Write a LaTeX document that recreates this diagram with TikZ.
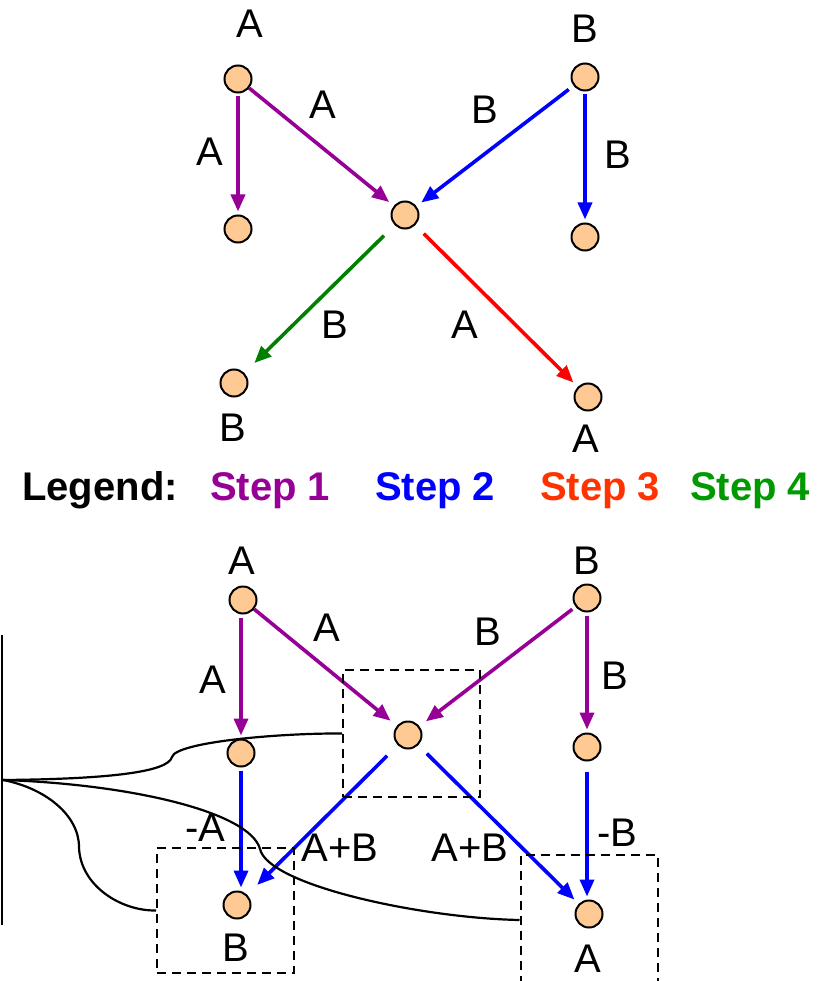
\documentclass[tikz,border=0pt]{standalone}
\usepackage{fontspec}
\setmainfont{Liberation Sans}
\usetikzlibrary{arrows.meta}
\definecolor{peach}{RGB}{255,201,148}
\definecolor{stepone}{RGB}{150,0,150}
\definecolor{steptwo}{RGB}{0,0,255}
\definecolor{stepthree}{RGB}{255,0,0}
\definecolor{stepfour}{RGB}{0,128,0}
\definecolor{legthree}{RGB}{255,51,0}
\definecolor{legfour}{RGB}{0,153,0}
\begin{document}
\begin{tikzpicture}[x=1pt,y=-1pt,
  vtx/.style={circle,draw=black,fill=peach,line width=2pt,minimum size=27pt,inner sep=0pt},
  lbl/.style={inner sep=0pt,font=\fontsize{40}{48}\selectfont},
  leg/.style={inner sep=0pt,anchor=base west,font=\fontsize{40}{48}\selectfont\bfseries},
  link/.style={line width=3.6pt,shorten <=3pt,shorten >=3pt,-{Triangle[length=17pt,width=14pt]}},
  dbox/.style={draw,line width=2pt,dash pattern=on 9pt off 6pt,inner sep=0pt,minimum width=137pt},
  brace/.style={line width=2.2pt}]
\useasboundingbox (0,0) rectangle (833,981);

% ---------- upper graph ----------
\node[vtx] (ta)  at (238,79)  {};
\node[vtx] (tab) at (238,229) {};
\node[vtx] (tc)  at (405,215) {};
\node[vtx] (tb)  at (585,77)  {};
\node[vtx] (tbb) at (585,237) {};
\node[vtx] (tl)  at (234,383) {};
\node[vtx] (tr)  at (588,397) {};

\node[lbl] (tal) at (250,24)  {A};
\node[lbl] (tbl) at (585,29)  {B};
\node[lbl] (tll) at (233,428) {B};
\node[lbl] (trl) at (586,439) {A};

\draw[link,stepone] (ta) -- (tab);
\node[lbl] (e1) at (210,152) {A};
\draw[link,stepone,shorten <=0pt,shorten >=6pt] (ta) -- (tc);
\node[lbl] (e2) at (323,105) {A};
\draw[link,steptwo,shorten <=6pt,shorten >=6pt] (tb) -- (tc);
\node[lbl] (e3) at (485,110) {B};
\draw[link,steptwo] (tb) -- (tbb);
\node[lbl] (e4) at (618,155) {B};
\draw[link,stepfour,shorten <=15pt,shorten >=14pt] (tc) -- (tl);
\node[lbl] (e5) at (335,325) {B};
\draw[link,stepthree,shorten <=12pt,shorten >=6pt] (tc) -- (tr);
\node[lbl] (e6) at (465,325) {A};

% ---------- legend ----------
\node[leg] (lg0) at (22,500)  {Legend:};
\node[leg,stepone] (lg1) at (210,500) {Step 1};
\node[leg,steptwo] (lg2) at (375,500) {Step 2};
\node[leg,legthree] (lg3) at (540,500) {Step 3};
\node[leg,legfour] (lg4) at (690,500) {Step 4};

% ---------- lower graph ----------
\node[vtx] (ba)  at (243,600) {};
\node[vtx] (bb)  at (587,598) {};
\node[vtx] (bc)  at (408,735) {};
\node[vtx] (bl)  at (241,753) {};
\node[vtx] (br)  at (587,747) {};
\node[vtx] (bx)  at (237,905) {};
\node[vtx] (by)  at (589,914) {};

\node[lbl] (bal) at (242,561) {A};
\node[lbl] (bbl) at (587,561) {B};
\node[lbl] (bxl) at (236,948) {B};
\node[lbl] (byl) at (588,959) {A};

\draw[link,stepone] (bl.north |- ba.south) -- (bl.north);
\node[lbl] (f1) at (213,680) {A};
\draw[link,stepone,shorten <=0pt,shorten >=8pt] (ba) -- (bc);
\node[lbl] (f2) at (327,628) {A};
\draw[link,stepone,shorten <=4pt,shorten >=8pt] (bb) -- (bc);
\node[lbl] (f3) at (488,632) {B};
\draw[link,stepone] (bb) -- (br);
\node[lbl] (f4) at (615,676) {B};

\draw[link,steptwo] (bl.south) -- (bl.south |- bx.north);
\node[lbl] (f5) at (205,828) {-A};
\draw[link,steptwo,shorten <=15pt,shorten >=14pt] (bc) -- (bx);
\node[lbl] (f6) at (340,848) {A+B};
\draw[link,steptwo,shorten <=12pt,shorten >=6pt] (bc) -- (by);
\node[lbl] (f7) at (470,848) {A+B};
\draw[link,steptwo,shorten <=10pt] (br.south) -- (br.south |- by.north);
\node[lbl] (f8) at (617,833) {-B};

% dashed groups
\node[dbox,minimum height=127pt] (g1) at (411.5,733.5) {};
\node[dbox,minimum height=125pt] (g2) at (225.5,910.5) {};
\node[dbox,minimum height=130pt] (g3) at (589,920) {};

% brace joining the groups
\coordinate (bartop) at (2,635);
\coordinate (barbot) at (2,925);
\coordinate (hub) at (3,780);
\coordinate (k1) at (172,757);
\coordinate (k2) at (79,847);
\coordinate (k3) at (260,849);
\draw[line width=2.5pt] (bartop) -- (barbot);
\draw[brace] (hub) .. controls (110,779) and (168,772) .. (k1)
  .. controls (176,742) and (280,733) .. (g1.west);
\draw[brace] (hub) .. controls (45,788) and (79,815) .. (k2)
  .. controls (80,885) and (120,911) .. (g2.west);
\draw[brace] (hub) .. controls (130,784) and (250,812) .. (k3)
  .. controls (268,885) and (420,918) .. (g3.west);
\end{tikzpicture}
\end{document}
